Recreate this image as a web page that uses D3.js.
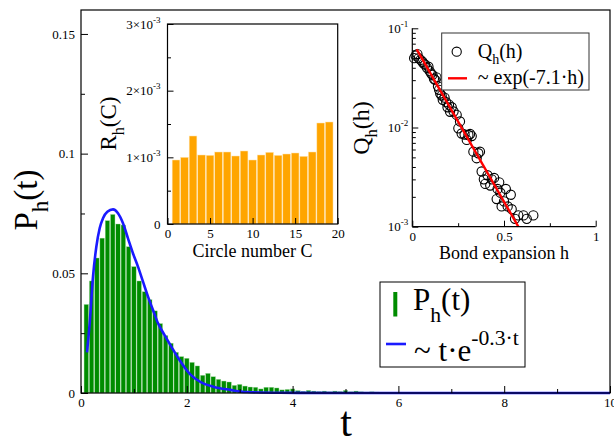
<!DOCTYPE html>
<html><head><meta charset="utf-8">
<script src="https://cdn.jsdelivr.net/npm/d3@7"></script>
<style>body{margin:0;background:#fff}svg{display:block}</style>
</head><body>
<svg id="c" width="614" height="441"></svg>
<script>
// ---------- data ----------
const binWidth = 0.1;
const histValues = [
  0.0370,0.0468,0.0564,0.0647,0.0720,0.0746,0.0706,0.0702,0.0611,0.0528,
  0.0468,0.0423,0.0390,0.0343,0.0290,0.0240,0.0208,0.0170,0.0152,0.0145,
  0.0128,0.0113,0.0074,0.0082,0.0068,0.0057,0.0050,0.0046,0.0032,0.0036,
  0.0029,0.0025,0.0024,0.0017,0.0024,0.0024,0.0021,0.0013,0.0015,0.0017,
  0.0010,0.0007,0.0011,0.0008,0.0006,0.0008,0.0005,0.0008,0.0006,0.0011,
  0.0005,0.0008,0.0005,0.0004,0.0005,0.0004,0.0003,0.0003,0.0002,0.0003,
  0.0002,0.0002,0.0002,0.0001,0.0002,0.0001,0.0001,0.0001,0.0001,0.0001,
  0.0001,0.0001,0.0001,0.0001,0.0001,0.0001,0.0001,0.0001,0.0001,0.0001
];
const fitT = [0.113,0.164,0.227,0.29,0.353,0.416,0.498,0.605,0.699,0.794,0.888,0.983,1.077,1.172,1.267,1.361,1.456,1.58,1.71,1.85,2.06,2.25,2.5,2.82,3.13,3.76,5,10];
const fitP = [0.0170,0.0291,0.0486,0.0611,0.0688,0.0730,0.0757,0.0767,0.0751,0.0709,0.0646,0.0583,0.0528,0.0465,0.0402,0.0347,0.0291,0.0242,0.0193,0.0142,0.0079,0.0047,0.0026,0.0013,0.0004,0.0001,0,0];
const mainXTicks = [0,2,4,6,8,10];
const mainXMinor = [1,3,5,7,9];
const mainYTicks = [0,0.05,0.1,0.15];
const mainYLabels = ["0","0.05","0.1","0.15"];
const mainYMinor = [0.025,0.075,0.125];

const circleC = [1,2,3,4,5,6,7,8,9,10,11,12,13,14,15,16,17,18,19];
const circleR = [0.96e-3,1.00e-3,1.32e-3,1.035e-3,1.03e-3,1.08e-3,1.08e-3,1.02e-3,1.095e-3,0.96e-3,
                 1.035e-3,1.075e-3,1.03e-3,1.05e-3,1.065e-3,1.015e-3,1.08e-3,1.515e-3,1.53e-3];
const in1XTicks = [0,5,10,15,20];
const in1YTicks = [0,0.001,0.002,0.003];
const in1YLabels = [["0",""],["1×10","-3"],["2×10","-3"],["3×10","-3"]];
const in1YMinor = [0.0005,0.0015,0.0025];

const scatterH = [0.010,0.018,0.028,0.035,0.045,0.055,0.062,0.070,0.080,0.088,0.095,0.103,0.110,0.118,0.126,0.132,0.140,0.146,0.152,0.160,
  0.166,0.176,0.185,0.192,0.200,0.206,0.215,0.225,0.242,0.251,0.260,0.269,0.285,0.297,0.306,0.315,0.324,0.333,0.351,0.360,
  0.369,0.378,0.390,0.398,0.410,0.425,0.433,0.446,0.460,0.465,0.474,0.480,0.487,0.500,0.510,0.520,0.537,0.542,0.560,0.578,
  0.606,0.624,0.660];
const scatterQ = [0.050,0.053,0.055,0.050,0.048,0.046,0.044,0.043,0.040,0.041,0.037,0.035,0.034,0.031,0.030,0.032,0.026,0.024,0.022,0.021,
  0.019,0.020,0.018,0.016,0.017,0.0144,0.016,0.0145,0.0134,0.0098,0.0115,0.0087,0.0085,0.0075,0.0084,0.0086,0.0082,0.0057,0.0049,0.0055,
  0.0057,0.0036,0.0030,0.0027,0.0033,0.0026,0.0030,0.0031,0.0019,0.0024,0.0028,0.0022,0.0016,0.0018,0.0024,0.0016,0.0021,0.0015,0.0012,0.0013,
  0.0013,0.0012,0.0013];
const expFitH = [0.024,0.578];
const expFitQ = [0.0614,0.001];
const in2XTicks = [0,0.5,1];
const in2XLabels = ["0","0.5","1"];
const in2XMinor = [0.25,0.75];
const in2YTicks = [0.001,0.01,0.1];
const in2YLabels = [["10","-3"],["10","-2"],["10","-1"]];
const in2YMinor = [2,3,4,5,6,7,8,9].flatMap(m=>[m*0.001,m*0.01]);

// ---------- helpers ----------
const F = '"Liberation Serif","Times New Roman",serif';
const svg = d3.select("#c");

function rich(parent, x, y, parts, size, opts={}) {
  const t = parent.append("text").attr("x",x).attr("y",y)
    .attr("font-family",F).attr("font-size",size).attr("fill","#000")
    .attr("text-anchor",opts.anchor||"start");
  if (opts.rotate) t.attr("transform",`rotate(${opts.rotate},${x},${y})`);
  let shift = 0;
  parts.forEach(p=>{
    const target = p.sub ? size*(opts.subShift||0.33) : p.sup ? -size*(opts.supShift||0.45) : 0;
    t.append("tspan").attr("dy", target-shift)
      .attr("font-size", (p.sub||p.sup) ? size*(opts.small||0.7) : size).text(p.t);
    shift = target;
  });
  return t;
}
function axis(gen, tr, fs) {
  const g = svg.append("g").attr("transform",tr).call(gen);
  g.select(".domain").remove();
  g.selectAll("line").attr("stroke","#000");
  g.selectAll("text").attr("font-family",F).attr("font-size",fs).attr("fill","#000");
  return g;
}

// ---------- main plot ----------
const x = d3.scaleLinear([0,10],[81,610]);
const y = d3.scaleLinear([0,0.16],[393,10]);

svg.append("g").selectAll("rect").data(histValues).join("rect")
  .attr("x",(d,i)=>x((i+1)*binWidth - 0.0425))
  .attr("width",x(0.085)-x(0))
  .attr("y",d=>y(d)).attr("height",d=>y(0)-y(d))
  .attr("fill","#008c00").attr("stroke","#a8dca8").attr("stroke-width",0.4);

svg.append("path").datum(fitT.map((t,i)=>[t,fitP[i]]))
  .attr("d",d3.line().x(d=>x(d[0])).y(d=>y(d[1])).curve(d3.curveMonotoneX))
  .attr("fill","none").attr("stroke","#1a1aff").attr("stroke-width",2.6);

svg.append("rect").attr("x",81).attr("y",10).attr("width",529).attr("height",383)
  .attr("fill","none").attr("stroke","#000").attr("stroke-width",1.2);

axis(d3.axisBottom(x).tickValues(mainXTicks).tickFormat(d3.format("d")).tickSizeInner(-7).tickSizeOuter(0).tickPadding(5),"translate(0,393)",13);
axis(d3.axisBottom(x).tickValues(mainXMinor).tickFormat("").tickSizeInner(-4).tickSizeOuter(0),"translate(0,393)",13);
axis(d3.axisLeft(y).tickValues(mainYTicks).tickFormat((d,i)=>mainYLabels[i]).tickSizeInner(-7).tickSizeOuter(0).tickPadding(6),"translate(81,0)",13);
axis(d3.axisLeft(y).tickValues(mainYMinor).tickFormat("").tickSizeInner(-4).tickSizeOuter(0),"translate(81,0)",13);

rich(svg, 37, 200, [{t:"P"},{t:"h",sub:true},{t:"(t)"}], 33, {anchor:"middle", rotate:-90});
svg.append("text").attr("x",346).attr("y",436).attr("text-anchor","middle")
  .attr("font-family",F).attr("font-size",42).text("t");

// legend
svg.append("rect").attr("x",380).attr("y",282).attr("width",145).attr("height",85)
  .attr("fill","#fff").attr("stroke","#000").attr("stroke-width",1);
svg.append("rect").attr("x",393.3).attr("y",292).attr("width",4).attr("height",24.5).attr("fill","#008c00");
rich(svg, 413, 310, [{t:"P"},{t:"h",sub:true},{t:"(t)"}], 31, {subShift:0.38});
svg.append("line").attr("x1",386).attr("x2",406).attr("y1",344).attr("y2",344)
  .attr("stroke","#1a1aff").attr("stroke-width",2.6);
rich(svg, 414, 361, [{t:"~ t·e"},{t:"-0.3·t",sup:true}], 31, {supShift:0.52});

// ---------- inset 1 ----------
const x1 = d3.scaleLinear([0,20],[167.5,337.7]);
const y1 = d3.scaleLinear([0,0.003],[224,24]);
svg.append("rect").attr("x",167.5).attr("y",24).attr("width",170.2).attr("height",200).attr("fill","#fff");
svg.append("g").selectAll("rect").data(circleR).join("rect")
  .attr("x",(d,i)=>x1(circleC[i]-0.45)).attr("width",x1(0.9)-x1(0))
  .attr("y",d=>y1(d)).attr("height",d=>y1(0)-y1(d))
  .attr("fill","#ffa500").attr("stroke","#ffe3b0").attr("stroke-width",0.5);
svg.append("rect").attr("x",167.5).attr("y",24).attr("width",170.2).attr("height",200)
  .attr("fill","none").attr("stroke","#000").attr("stroke-width",1.2);
axis(d3.axisBottom(x1).tickValues(in1XTicks).tickFormat(d3.format("d")).tickSizeInner(-6).tickSizeOuter(0).tickPadding(5),"translate(0,224)",13);
const a1y = axis(d3.axisLeft(y1).tickValues(in1YTicks).tickFormat("").tickSizeInner(-6).tickSizeOuter(0).tickPadding(7),"translate(167.5,0)",13);
axis(d3.axisLeft(y1).tickValues(in1YMinor).tickFormat("").tickSizeInner(-3.5).tickSizeOuter(0),"translate(167.5,0)",13);
a1y.selectAll("text").each(function(d,i){
  const t = d3.select(this); t.text(null);
  t.append("tspan").text(in1YLabels[i][0]);
  if (in1YLabels[i][1]) t.append("tspan").attr("dy",-6).attr("font-size",9).text(in1YLabels[i][1]);
});
rich(svg, 116, 123.5, [{t:"R"},{t:"h",sub:true},{t:"(C)"}], 23, {anchor:"middle", rotate:-90});
svg.append("text").attr("x",252.6).attr("y",257).attr("text-anchor","middle")
  .attr("font-family",F).attr("font-size",18).text("Circle number C");

// ---------- inset 2 ----------
const x2 = d3.scaleLinear([0,1],[412.3,595.7]);
const y2 = d3.scaleLog([0.001,0.1],[226.7,28.3]);
svg.append("g").selectAll("circle").data(scatterH).join("circle")
  .attr("cx",d=>x2(d)).attr("cy",(d,i)=>y2(scatterQ[i])).attr("r",4.6)
  .attr("fill","none").attr("stroke","#000").attr("stroke-width",1.1);
svg.append("line").attr("x1",x2(expFitH[0])).attr("y1",y2(expFitQ[0]))
  .attr("x2",x2(expFitH[1])).attr("y2",y2(expFitQ[1]))
  .attr("stroke","#ff0000").attr("stroke-width",2.4);
svg.append("line").attr("x1",412.3).attr("x2",412.3).attr("y1",28.3).attr("y2",226.7).attr("stroke","#000").attr("stroke-width",1.2);
svg.append("line").attr("x1",412.3).attr("x2",595.7).attr("y1",226.7).attr("y2",226.7).attr("stroke","#000").attr("stroke-width",1.2);
axis(d3.axisBottom(x2).tickValues(in2XTicks).tickFormat((d,i)=>in2XLabels[i]).tickSizeInner(-6).tickSizeOuter(0).tickPadding(5),"translate(0,226.7)",13);
axis(d3.axisBottom(x2).tickValues(in2XMinor).tickFormat("").tickSizeInner(-3.5).tickSizeOuter(0),"translate(0,226.7)",13);
const a2y = axis(d3.axisLeft(y2).tickValues(in2YTicks).tickFormat("").tickSizeInner(-6).tickSizeOuter(0).tickPadding(4),"translate(412.3,0)",13);
axis(d3.axisLeft(y2).tickValues(in2YMinor).tickFormat("").tickSizeInner(-3.5).tickSizeOuter(0),"translate(412.3,0)",13);
a2y.selectAll("text").each(function(d,i){
  const t = d3.select(this); t.text(null);
  t.append("tspan").text(in2YLabels[i][0]);
  t.append("tspan").attr("dy",-6).attr("font-size",9).text(in2YLabels[i][1]);
});
rich(svg, 369, 128, [{t:"Q"},{t:"h",sub:true},{t:"(h)"}], 24, {anchor:"middle", rotate:-90});
svg.append("text").attr("x",504).attr("y",259).attr("text-anchor","middle")
  .attr("font-family",F).attr("font-size",18).text("Bond expansion h");

// legend inset 2
svg.append("rect").attr("x",441.7).attr("y",33).attr("width",147.3).attr("height",57)
  .attr("fill","#fff").attr("stroke","#333").attr("stroke-width",1);
svg.append("circle").attr("cx",456.7).attr("cy",51.7).attr("r",4.6)
  .attr("fill","none").attr("stroke","#000").attr("stroke-width",1.1);
rich(svg, 477.7, 58, [{t:"Q"},{t:"h",sub:true},{t:"(h)"}], 20, {subShift:0.28});
svg.append("line").attr("x1",448).attr("x2",467).attr("y1",78.3).attr("y2",78.3)
  .attr("stroke","#ff0000").attr("stroke-width",2.4);
svg.append("text").attr("x",477.7).attr("y",84).attr("font-family",F).attr("font-size",20).text("~ exp(-7.1·h)");
</script>
</body></html>
